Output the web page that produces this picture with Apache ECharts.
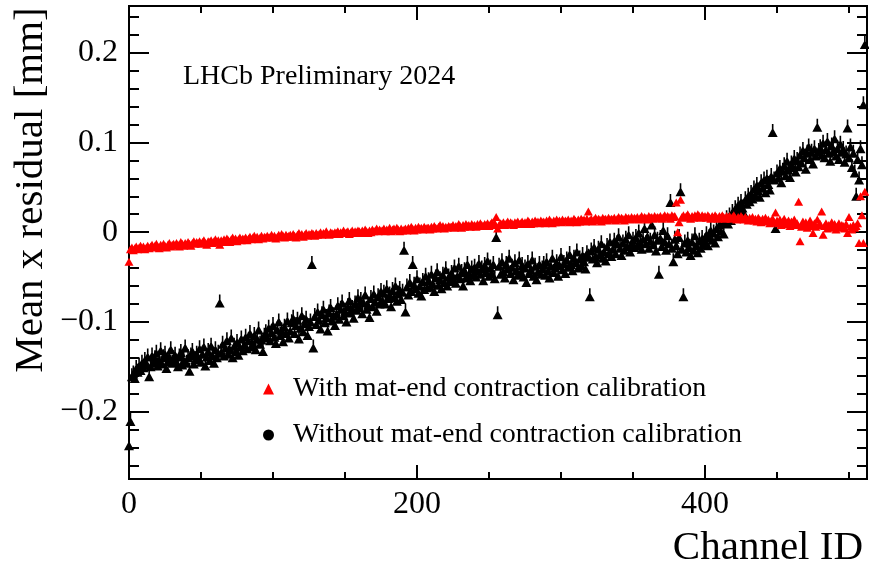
<!DOCTYPE html>
<html>
<head>
<meta charset="utf-8">
<script src="https://cdn.jsdelivr.net/npm/echarts@6/dist/echarts.min.js"></script>
<style>
html,body{margin:0;padding:0;background:#fff;}
#c{width:869px;height:565px;}
</style>
</head>
<body>
<div id="c"></div>
<script>
// ---- tick values ----
const xMajorTicks = [0, 200, 400];
const xMinorTicks = [50, 100, 150, 250, 300, 350, 450, 500];
const yMajorTicks = [-0.2, -0.1, 0, 0.1, 0.2];
const yMinorTicks = [-0.26, -0.24, -0.22, -0.18, -0.16, -0.14, -0.12, -0.08, -0.06, -0.04, -0.02,
  0.02, 0.04, 0.06, 0.08, 0.12, 0.14, 0.16, 0.18, 0.22, 0.24];

const seriesWithName = 'With mat-end contraction calibration';
const seriesWithoutName = 'Without mat-end contraction calibration';

// ---- mean x residual [mm] per channel (channel ID = index) ----
const withCalib = [
-0.033,-0.019,-0.017,-0.020,-0.018,-0.016,-0.019,-0.017,-0.015,-0.018,-0.016,-0.019,-0.017,-0.015,-0.018,-0.016,
-0.014,-0.017,-0.015,-0.013,-0.016,-0.018,-0.014,-0.016,-0.013,-0.015,-0.017,-0.014,-0.012,-0.016,-0.014,-0.013,
-0.015,-0.012,-0.014,-0.016,-0.011,-0.013,-0.015,-0.012,-0.014,-0.011,-0.013,-0.015,-0.012,-0.010,-0.013,-0.011,
-0.012,-0.010,-0.013,-0.011,-0.009,-0.012,-0.014,-0.010,-0.011,-0.009,-0.012,-0.010,-0.008,-0.011,-0.009,-0.014,
-0.009,-0.011,-0.008,-0.010,-0.007,-0.009,-0.011,-0.008,-0.006,-0.009,-0.007,-0.010,-0.008,-0.006,-0.009,-0.007,
-0.008,-0.006,-0.009,-0.007,-0.005,-0.008,-0.006,-0.004,-0.007,-0.005,-0.008,-0.006,-0.004,-0.007,-0.005,-0.006,
-0.004,-0.006,-0.005,-0.003,-0.006,-0.004,-0.007,-0.005,-0.003,-0.005,-0.002,-0.004,-0.006,-0.003,-0.005,-0.004,
-0.003,-0.005,-0.002,-0.004,-0.006,-0.003,-0.001,-0.004,-0.002,-0.005,-0.003,-0.001,-0.004,-0.002,-0.003,-0.001,
-0.002,-0.004,-0.001,-0.003,-0.002,0.000,-0.003,-0.001,-0.002,0.001,-0.002,-0.003,0.000,-0.001,-0.002,0.000,
-0.001,0.001,-0.002,0.000,-0.001,0.002,-0.001,0.000,0.001,-0.002,0.000,0.002,-0.001,0.001,0.000,0.002,
0.001,-0.001,0.002,0.000,0.003,0.001,-0.001,0.002,0.000,0.003,0.001,0.002,0.004,0.001,0.003,0.002,
0.002,0.004,0.001,0.003,0.002,0.005,0.001,0.003,0.004,0.002,0.005,0.003,0.001,0.004,0.002,0.003,
0.004,0.002,0.005,0.003,0.006,0.004,0.002,0.005,0.003,0.006,0.004,0.005,0.003,0.006,0.004,0.005,
0.005,0.003,0.006,0.004,0.007,0.005,0.004,0.006,0.008,0.005,0.007,0.004,0.006,0.005,0.007,0.006,
0.006,0.008,0.005,0.007,0.006,0.009,0.007,0.005,0.008,0.006,0.009,0.007,0.008,0.006,0.009,0.007,
0.008,0.006,0.009,0.007,0.010,0.008,0.007,0.009,0.008,0.010,0.007,0.009,0.011,0.008,0.010,0.017,
0.004,0.008,0.010,0.009,0.011,0.008,0.010,0.012,0.009,0.011,0.010,0.008,0.011,0.010,0.012,0.009,
0.010,0.012,0.009,0.011,0.010,0.013,0.011,0.009,0.012,0.010,0.013,0.011,0.012,0.010,0.013,0.011,
0.012,0.010,0.013,0.011,0.014,0.012,0.010,0.013,0.011,0.014,0.012,0.013,0.011,0.014,0.012,0.013,
0.012,0.014,0.011,0.013,0.012,0.015,0.013,0.011,0.014,0.012,0.015,0.013,0.014,0.012,0.015,0.023,
0.013,0.015,0.012,0.014,0.016,0.013,0.015,0.014,0.012,0.016,0.014,0.015,0.013,0.016,0.014,0.015,
0.014,0.016,0.013,0.015,0.017,0.014,0.016,0.015,0.013,0.017,0.015,0.016,0.014,0.017,0.015,0.016,
0.015,0.017,0.014,0.016,0.018,0.015,0.017,0.016,0.014,0.018,0.016,0.017,0.015,0.018,0.016,0.017,
0.016,0.018,0.015,0.017,0.019,0.016,0.018,0.017,0.015,0.019,0.017,0.018,0.033,0.000,0.011,0.036,
0.017,0.019,0.016,0.018,0.020,0.017,0.015,0.018,0.016,0.019,0.017,0.020,0.018,0.016,0.019,0.017,
0.018,0.016,0.019,0.017,0.015,0.018,0.016,0.019,0.017,0.015,0.018,0.016,0.019,0.017,0.015,0.018,
0.016,0.018,0.015,0.017,0.019,0.016,0.014,0.017,0.015,0.018,0.016,0.014,0.017,0.015,0.013,0.016,
0.014,0.017,0.013,0.015,0.012,0.016,0.014,0.011,0.015,0.013,0.016,0.012,0.014,0.010,0.013,0.015,
0.011,0.022,0.013,0.010,0.014,0.008,0.012,0.015,0.009,0.011,0.013,0.007,0.012,0.010,0.014,0.008,
0.010,0.034,-0.010,0.006,0.012,0.008,0.011,0.005,0.009,0.013,0.007,-0.001,0.010,0.006,0.014,0.008,
0.009,0.023,-0.003,0.007,0.010,0.004,0.008,0.006,0.011,0.005,0.009,0.003,0.007,0.010,0.005,0.008,
0.007,0.004,0.009,-0.001,0.017,0.006,0.003,0.008,0.005,0.007,0.010,-0.012,0.040,0.019,-0.012,0.045
];

const withoutCalib = [
-0.238,-0.211,-0.161,-0.158,-0.163,-0.152,-0.156,-0.149,-0.154,-0.146,-0.151,-0.143,-0.148,-0.139,-0.161,-0.150,
-0.138,-0.146,-0.141,-0.135,-0.149,-0.143,-0.132,-0.147,-0.140,-0.136,-0.152,-0.144,-0.139,-0.131,-0.146,-0.141,
-0.137,-0.145,-0.150,-0.139,-0.134,-0.148,-0.143,-0.129,-0.146,-0.140,-0.155,-0.138,-0.133,-0.147,-0.142,-0.136,
-0.141,-0.130,-0.145,-0.136,-0.128,-0.149,-0.139,-0.133,-0.143,-0.127,-0.138,-0.146,-0.131,-0.140,-0.135,-0.079,
-0.134,-0.125,-0.138,-0.129,-0.121,-0.136,-0.131,-0.118,-0.140,-0.127,-0.133,-0.123,-0.137,-0.128,-0.119,-0.132,
-0.126,-0.117,-0.130,-0.121,-0.113,-0.128,-0.124,-0.115,-0.131,-0.119,-0.109,-0.125,-0.120,-0.133,-0.116,-0.112,
-0.118,-0.107,-0.121,-0.112,-0.104,-0.117,-0.124,-0.109,-0.100,-0.115,-0.110,-0.122,-0.106,-0.113,-0.099,-0.118,
-0.110,-0.101,-0.096,-0.113,-0.104,-0.098,-0.119,-0.107,-0.093,-0.111,-0.102,-0.097,-0.115,-0.105,-0.100,-0.036,
-0.129,-0.094,-0.103,-0.089,-0.098,-0.108,-0.092,-0.086,-0.101,-0.095,-0.110,-0.090,-0.084,-0.099,-0.093,-0.104,
-0.091,-0.082,-0.097,-0.086,-0.079,-0.093,-0.088,-0.100,-0.083,-0.076,-0.090,-0.085,-0.096,-0.080,-0.087,-0.073,
-0.084,-0.076,-0.091,-0.079,-0.070,-0.086,-0.081,-0.095,-0.074,-0.083,-0.069,-0.078,-0.088,-0.072,-0.080,-0.066,
-0.076,-0.068,-0.080,-0.063,-0.074,-0.070,-0.083,-0.065,-0.073,-0.060,-0.077,-0.069,-0.064,-0.075,-0.067,-0.020,
-0.089,-0.061,-0.070,-0.056,-0.066,-0.036,-0.059,-0.063,-0.052,-0.068,-0.060,-0.071,-0.055,-0.064,-0.049,-0.062,
-0.054,-0.061,-0.047,-0.058,-0.066,-0.051,-0.044,-0.059,-0.053,-0.063,-0.048,-0.056,-0.042,-0.060,-0.050,-0.055,
-0.046,-0.053,-0.040,-0.057,-0.049,-0.038,-0.052,-0.045,-0.060,-0.043,-0.051,-0.036,-0.048,-0.054,-0.041,-0.047,
-0.039,-0.050,-0.043,-0.035,-0.047,-0.041,-0.054,-0.037,-0.045,-0.032,-0.049,-0.040,-0.046,-0.036,-0.052,-0.006,
-0.092,-0.038,-0.047,-0.033,-0.044,-0.051,-0.036,-0.041,-0.029,-0.046,-0.039,-0.053,-0.034,-0.043,-0.048,-0.031,
-0.045,-0.037,-0.050,-0.040,-0.056,-0.035,-0.046,-0.042,-0.031,-0.049,-0.038,-0.053,-0.044,-0.036,-0.047,-0.041,
-0.036,-0.048,-0.033,-0.043,-0.051,-0.038,-0.029,-0.045,-0.040,-0.034,-0.049,-0.037,-0.027,-0.042,-0.035,-0.046,
-0.031,-0.039,-0.025,-0.036,-0.043,-0.029,-0.034,-0.022,-0.040,-0.030,-0.037,-0.026,-0.033,-0.041,-0.024,-0.028,
-0.072,-0.021,-0.030,-0.017,-0.027,-0.034,-0.019,-0.025,-0.013,-0.029,-0.022,-0.032,-0.016,-0.024,-0.011,-0.027,
-0.019,-0.010,-0.024,-0.013,-0.005,-0.018,-0.026,-0.012,-0.020,-0.008,-0.016,-0.003,-0.022,-0.014,-0.009,-0.017,
-0.006,-0.015,-0.001,-0.012,-0.019,-0.008,0.004,-0.013,-0.005,-0.018,-0.010,0.008,-0.014,-0.003,-0.021,-0.009,
-0.047,-0.007,-0.016,0.002,-0.011,-0.020,-0.004,-0.013,0.033,-0.018,-0.033,-0.008,-0.015,-0.024,-0.006,0.045,
-0.019,-0.072,-0.012,-0.022,-0.009,-0.017,-0.026,-0.011,-0.020,-0.004,-0.015,-0.023,-0.010,-0.018,-0.007,-0.014,
-0.011,-0.003,-0.015,-0.006,0.002,-0.009,-0.001,-0.012,0.004,-0.005,0.008,0.001,0.012,-0.002,0.010,0.015,
0.009,0.018,0.013,0.022,0.016,0.026,0.019,0.030,0.024,0.033,0.027,0.021,0.036,0.031,0.040,0.034,
0.043,0.037,0.048,0.041,0.052,0.046,0.039,0.055,0.049,0.058,0.044,0.060,0.053,0.047,0.062,0.111,
0.058,0.004,0.066,0.060,0.071,0.055,0.068,0.074,0.063,0.079,0.069,0.061,0.076,0.072,0.082,0.067,
0.080,0.073,0.086,0.077,0.091,0.083,0.070,0.088,0.095,0.081,0.089,0.076,0.093,0.085,0.117,0.090,
0.094,0.086,0.099,0.083,0.092,0.101,0.088,0.079,0.096,0.090,0.104,0.085,0.093,0.081,0.098,0.089,
0.092,0.078,0.087,0.116,0.083,0.095,0.072,0.088,0.066,0.040,0.081,0.058,0.093,0.075,0.142,0.209
];

// ---- layout / style ----
const X_MIN = 0, X_MAX = 512.5;
const Y_MIN = -0.275, Y_MAX = 0.252;
const FONT = 'Liberation Serif';

const chart = echarts.init(document.getElementById('c'), null, {renderer: 'canvas'});

function fmtY(v) {
  if (v === 0) return '0';
  return (v < 0 ? '\u2212' : '') + String(Math.abs(v));
}

function xAx(pos, ticks, len, labels) {
  return {
    type: 'value', min: X_MIN, max: X_MAX, position: pos,
    axisLine: {show: false, onZero: false}, splitLine: {show: false},
    axisTick: {show: true, inside: true, length: len, customValues: ticks,
      lineStyle: {color: '#000', width: 2}},
    axisLabel: labels ? {show: true, customValues: ticks, color: '#000',
      fontFamily: FONT, fontSize: 32, margin: 10} : {show: false}
  };
}
function yAx(pos, ticks, len, labels) {
  return {
    type: 'value', min: Y_MIN, max: Y_MAX, position: pos,
    axisLine: {show: false, onZero: false}, splitLine: {show: false},
    axisTick: {show: true, inside: true, length: len, customValues: ticks,
      lineStyle: {color: '#000', width: 2}},
    axisLabel: labels ? {show: true, customValues: ticks, color: '#000',
      fontFamily: FONT, fontSize: 32, margin: 11, formatter: fmtY} : {show: false}
  };
}

const blackSymbol = 'path://M4.2,0 H5.8 V6 H4.2 Z M0,12 L5,3.5 L10,12 Z';

chart.setOption({
  animation: false,
  backgroundColor: '#fff',
  grid: {left: 129, right: 2, top: 6, bottom: 86, show: true,
    borderColor: '#000', borderWidth: 2, backgroundColor: 'transparent'},
  xAxis: [
    xAx('bottom', xMajorTicks, 14, true),
    xAx('bottom', xMinorTicks, 7, false),
    xAx('top', xMajorTicks, 14, false),
    xAx('top', xMinorTicks, 7, false)
  ],
  yAxis: [
    yAx('left', yMajorTicks, 20, true),
    yAx('left', yMinorTicks, 10, false),
    yAx('right', yMajorTicks, 20, false),
    yAx('right', yMinorTicks, 10, false)
  ],
  legend: {
    show: true, orient: 'vertical', left: 258, top: 370,
    itemWidth: 11, itemHeight: 11, itemGap: 18,
    textStyle: {color: '#000', fontFamily: FONT, fontSize: 28, padding: [0, 0, 0, 14]},
    data: [
      {name: seriesWithName, icon: 'triangle'},
      {name: seriesWithoutName, icon: 'circle'}
    ]
  },
  graphic: [
    {type: 'text', left: 183, top: 63, style: {text: 'LHCb Preliminary 2024',
      fill: '#000', font: '28px "Liberation Serif"'}},
    {type: 'text', x: 31, y: 190, rotation: Math.PI / 2, style: {text: 'Mean x residual [mm]',
      fill: '#000', font: '41px "Liberation Serif"', align: 'center', verticalAlign: 'middle'}},
    {type: 'text', x: 863, y: 548, style: {text: 'Channel ID',
      fill: '#000', font: '41px "Liberation Serif"', align: 'right', verticalAlign: 'middle'}}
  ],
  series: [
    {
      name: seriesWithoutName, type: 'scatter', xAxisIndex: 0, yAxisIndex: 0,
      symbol: blackSymbol, symbolSize: [10, 13], symbolOffset: [0, -2],
      itemStyle: {color: '#000', opacity: 1}, z: 2,
      data: withoutCalib.map((v, i) => [i, v])
    },
    {
      name: seriesWithName, type: 'scatter', xAxisIndex: 0, yAxisIndex: 0,
      symbol: 'triangle', symbolSize: [9, 8],
      itemStyle: {color: '#ff0000', opacity: 1}, z: 3,
      data: withCalib.map((v, i) => [i, v])
    }
  ]
});
</script>
</body>
</html>
